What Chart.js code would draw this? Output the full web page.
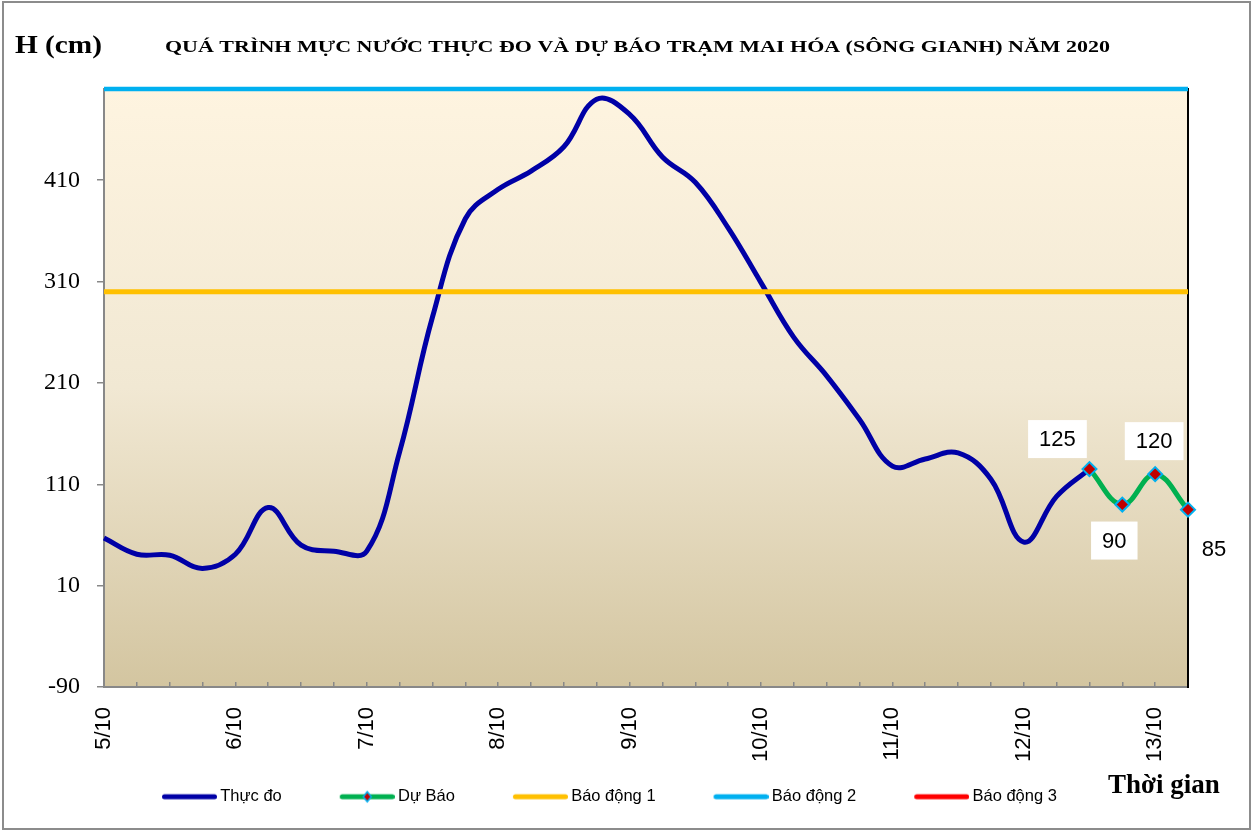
<!DOCTYPE html>
<html lang="vi">
<head>
<meta charset="utf-8">
<title>Mực nước trạm Mai Hóa</title>
<script src="https://cdn.jsdelivr.net/npm/chart.js@4.4.1/dist/chart.umd.min.js"></script>
<style>
  html, body { margin: 0; padding: 0; background: #fff; }
  #wrap { width: 1257px; height: 832px; }
</style>
</head>
<body>
<div id="wrap"><canvas id="myChart" width="1257" height="832"></canvas></div>
<script>
// 6-hourly readings, 5/10 00h .. 13/10 06h
const days = ['5/10', '6/10', '7/10', '8/10', '9/10', '10/10', '11/10', '12/10', '13/10'];
const hours = [0, 6, 12, 18];
const thucDo = [57, 41, 40, 27, 41, 87, 50, 44, 44, 142, 275, 372, 401, 419, 443, 490,
	475, 433, 408, 363, 309, 255, 217, 174, 128, 135, 141, 115, 53, 98, 125];
const duBao = [125, 90, 120, 85];
const baoDong = [300, 500, 650];
const yTicks = [-90, 10, 110, 210, 310, 410];

const times = days.flatMap(d => hours.map(h => d + ' ' + h + 'h')).slice(0, 34);
const forecast = Array(times.length - duBao.length).fill(null).concat(duBao);

const colors = {
	thucDo: '#0000A6',
	duBao: '#00B050',
	bd1: '#FFC000',
	bd2: '#00B0F0',
	bd3: '#FF0000'
};

// legend icons: transparent lead-in, then a short thick line (marker for the forecast)
function makeIcon(color, marker) {
	const c = document.createElement('canvas');
	c.width = 96;
	c.height = 14;
	const g = c.getContext('2d');
	g.strokeStyle = color;
	g.lineWidth = 5;
	g.lineCap = 'round';
	g.beginPath();
	g.moveTo(43.5, 7);
	g.lineTo(93.5, 7);
	g.stroke();
	if (marker) {
		g.fillStyle = '#C00000';
		g.strokeStyle = colors.bd2;
		g.lineWidth = 1.5;
		g.beginPath();
		g.moveTo(68.5, 2); g.lineTo(72.5, 7); g.lineTo(68.5, 12); g.lineTo(64.5, 7);
		g.closePath();
		g.fill();
		g.stroke();
	}
	return c;
}
const icons = [
	makeIcon(colors.thucDo),
	makeIcon(colors.duBao, true),
	makeIcon(colors.bd1),
	makeIcon(colors.bd2),
	makeIcon(colors.bd3)
];

function drawStretched(ctx, text, x, y, w) {
	const m = ctx.measureText(text).width;
	ctx.save();
	ctx.translate(x, y);
	ctx.scale(w / m, 1);
	ctx.fillText(text, 0, 0);
	ctx.restore();
}

const frame = {
	id: 'frame',
	beforeDraw(chart) {
		const { ctx, chartArea: a, width, height } = chart;
		ctx.save();
		ctx.fillStyle = '#fff';
		ctx.fillRect(0, 0, width, height);
		const g = ctx.createLinearGradient(0, a.top, 0, a.bottom);
		g.addColorStop(0, '#FEF4E0');
		g.addColorStop(0.5, '#F1E8D3');
		g.addColorStop(1, '#D3C5A0');
		ctx.fillStyle = g;
		ctx.fillRect(a.left, a.top, a.right - a.left, a.bottom - a.top);
		ctx.strokeStyle = '#8c8c8c';
		ctx.lineWidth = 2;
		ctx.strokeRect(3, 2, 1247, 827);
		ctx.restore();
	},
	afterDraw(chart) {
		const ctx = chart.ctx;
		ctx.save();
		ctx.fillStyle = '#000';
		ctx.textBaseline = 'alphabetic';
		ctx.textAlign = 'left';
		ctx.font = 'bold 17px "Liberation Serif"';
		drawStretched(ctx, 'QUÁ TRÌNH MỰC NƯỚC THỰC ĐO VÀ DỰ BÁO TRẠM MAI HÓA (SÔNG GIANH) NĂM 2020', 165, 52, 945);
		ctx.font = 'bold 25px "Liberation Serif"';
		drawStretched(ctx, 'H (cm)', 15, 53, 87);
		ctx.font = 'bold 27px "Liberation Serif"';
		ctx.fillText('Thời gian', 1108, 793);
		ctx.restore();
	}
};

// boxed value labels on the forecast points
const valueLabels = {
	id: 'valueLabels',
	afterDatasetsDraw(chart) {
		const ctx = chart.ctx;
		const meta = chart.getDatasetMeta(1);
		const offsets = [[-32, -30], [-8, 36], [-1, -33], [26, 39]];
		ctx.save();
		ctx.font = '22px "Liberation Sans"';
		ctx.textAlign = 'center';
		ctx.textBaseline = 'middle';
		let k = 0;
		forecast.forEach((v, i) => {
			if (v == null) return;
			const pt = meta.data[i];
			const [dx, dy] = offsets[k++];
			const x = pt.x + dx, y = pt.y + dy;
			const w = ctx.measureText(String(v)).width + 22;
			ctx.fillStyle = '#fff';
			ctx.fillRect(x - w / 2, y - 19, w, 38);
			ctx.fillStyle = '#000';
			ctx.fillText(String(v), x, y + 1);
		});
		ctx.restore();
	}
};

const ctx = document.getElementById('myChart').getContext('2d');

let myChart = new Chart(ctx, {
	type: 'line',
	data: {
		labels: times,
		datasets: [{
			label: 'Thực đo',
			data: thucDo,
			borderColor: colors.thucDo,
			backgroundColor: colors.thucDo,
			borderWidth: 5,
			pointRadius: 0,
			tension: 0.4,
			order: 3
		}, {
			label: 'Dự Báo',
			data: forecast,
			borderColor: colors.duBao,
			backgroundColor: colors.duBao,
			borderWidth: 5,
			tension: 0.4,
			pointStyle: 'rectRot',
			pointRadius: 7,
			pointBackgroundColor: '#C00000',
			pointBorderColor: colors.bd2,
			pointBorderWidth: 2,
			clip: false,
			order: 0
		}, {
			label: 'Báo động 1',
			data: times.map(() => baoDong[0]),
			borderColor: colors.bd1,
			backgroundColor: colors.bd1,
			borderWidth: 5,
			pointRadius: 0,
			clip: false,
			order: 1
		}, {
			label: 'Báo động 2',
			data: times.map(() => baoDong[1]),
			borderColor: colors.bd2,
			backgroundColor: colors.bd2,
			borderWidth: 4.5,
			pointRadius: 0,
			clip: false,
			order: 1
		}, {
			label: 'Báo động 3',
			data: times.map(() => baoDong[2]),
			borderColor: colors.bd3,
			backgroundColor: colors.bd3,
			borderWidth: 4,
			pointRadius: 0,
			order: 1
		}]
	},
	options: {
		responsive: false,
		animation: false,
		layout: { padding: { top: 89, bottom: 17, left: 0, right: 28 } },
		scales: {
			x: {
				type: 'category',
				offset: false,
				grid: { drawOnChartArea: false, tickLength: -5, color: '#888', lineWidth: 1.5 },
				border: { color: '#888', width: 2 },
				ticks: {
					autoSkip: false,
					minRotation: 90,
					maxRotation: 90,
					padding: 25,
					color: '#000',
					font: { family: 'Liberation Sans', size: 22 },
					callback: (v, i) => times[i].endsWith(' 0h') ? times[i].split(' ')[0] : ''
				},
				afterFit: s => { s.height = 79.5; }
			},
			y: {
				min: -90,
				max: 500,
				grid: { drawOnChartArea: false, tickLength: 7, color: '#888', lineWidth: 1.5 },
				border: { color: '#888', width: 2 },
				ticks: {
					padding: 17,
					color: '#000',
					font: { family: 'Liberation Serif', size: 24 }
				},
				afterBuildTicks: s => { s.ticks = yTicks.map(v => ({ value: v })); },
				afterFit: s => { s.width = 104; }
			},
			y2: {
				position: 'right',
				min: -90,
				max: 500,
				grid: { display: false },
				ticks: { display: false },
				border: { color: '#000', width: 2 },
				afterFit: s => { s.width = 41; }
			}
		},
		plugins: {
			title: { display: false },
			tooltip: { enabled: false },
			legend: {
				position: 'bottom',
				fullSize: false,
				align: 'start',
				labels: {
					usePointStyle: true,
					pointStyleWidth: 86,
					padding: 22,
					color: '#000',
					font: { family: 'Liberation Sans', size: 16.5 },
					sort: (a, b) => a.datasetIndex - b.datasetIndex,
					generateLabels: chart => Chart.defaults.plugins.legend.labels.generateLabels(chart)
						.map(l => Object.assign(l, { pointStyle: icons[l.datasetIndex], lineWidth: 0 }))
				}
			}
		}
	},
	plugins: [frame, valueLabels]
});
</script>
</body>
</html>
